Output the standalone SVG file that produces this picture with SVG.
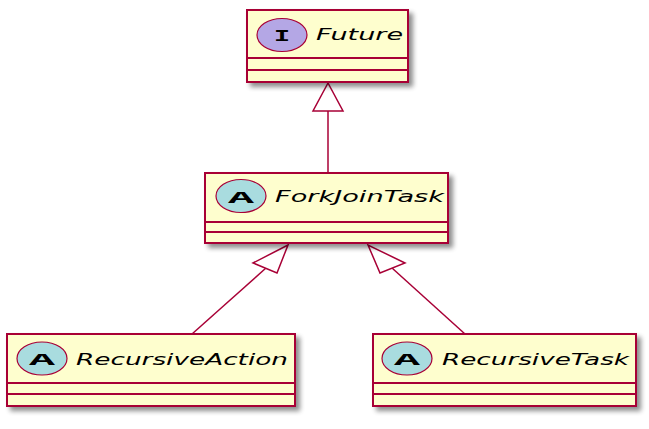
<svg xmlns="http://www.w3.org/2000/svg" width="649" height="429" viewBox="0 0 649 429">
<style>
.box{fill:#FEFECE;stroke:#A80036;stroke-width:2}
.div{stroke:#A80036;stroke-width:2}
.name{font-family:"DejaVu Sans","Liberation Sans",sans-serif;font-style:italic;font-size:15px;fill:#000}
.circI{fill:#B4A7E5;stroke:#A80036;stroke-width:1.2}
.circA{fill:#A9DCDF;stroke:#A80036;stroke-width:1.2}
.let{font-family:"Liberation Mono","DejaVu Sans Mono",monospace;font-weight:bold;font-size:17px;fill:#000;text-anchor:middle}
.edge{stroke:#A80036;stroke-width:1.5;fill:none}
.head{fill:#FFFFFF;stroke:#A80036;stroke-width:1.5}
</style>
<defs>
<filter id="sh" x="-10%" y="-20%" width="130%" height="150%">
<feGaussianBlur in="SourceAlpha" stdDeviation="2.5"/>
<feOffset dx="4" dy="4" result="b"/>
<feComponentTransfer><feFuncA type="linear" slope="0.45"/></feComponentTransfer>
<feMerge><feMergeNode/><feMergeNode in="SourceGraphic"/></feMerge>
</filter>
</defs>
<rect width="649" height="429" fill="#FFFFFF"/>
<g id="connectors">
<line class="edge" x1="328" y1="111" x2="328" y2="173"/>
<polygon class="head" points="328,83 313,111 343,111"/>
<line class="edge" x1="266" y1="268" x2="192" y2="334"/>
<polygon class="head" points="288,245 253,263 277,273"/>
<line class="edge" x1="392" y1="268" x2="465" y2="334"/>
<polygon class="head" points="368,245 380,273 405,263"/>
</g>
<g id="Future">
<rect class="box" x="247" y="10" width="161" height="72" filter="url(#sh)"/>
<line class="div" x1="247" y1="58" x2="408" y2="58"/>
<line class="div" x1="247" y1="70" x2="408" y2="70"/>
<ellipse class="circI" cx="282" cy="35" rx="25" ry="16.5"/>
<text class="let" x="282" y="41" textLength="16" lengthAdjust="spacingAndGlyphs">I</text>
<text class="name" x="316" y="40" textLength="87" lengthAdjust="spacingAndGlyphs">Future</text>
</g>
<g id="ForkJoinTask">
<rect class="box" x="205" y="173" width="243" height="70" filter="url(#sh)"/>
<line class="div" x1="205" y1="222" x2="448" y2="222"/>
<line class="div" x1="205" y1="232" x2="448" y2="232"/>
<ellipse class="circA" cx="241" cy="196" rx="25" ry="16.5"/>
<text class="let" x="241" y="203" textLength="26" lengthAdjust="spacingAndGlyphs">A</text>
<text class="name" x="275" y="202" textLength="169" lengthAdjust="spacingAndGlyphs">ForkJoinTask</text>
</g>
<g id="RecursiveAction">
<rect class="box" x="7" y="334" width="288" height="72" filter="url(#sh)"/>
<line class="div" x1="7" y1="383" x2="295" y2="383"/>
<line class="div" x1="7" y1="394" x2="295" y2="394"/>
<ellipse class="circA" cx="42" cy="358.5" rx="25" ry="16.5"/>
<text class="let" x="42" y="365" textLength="26" lengthAdjust="spacingAndGlyphs">A</text>
<text class="name" x="76" y="365" textLength="212" lengthAdjust="spacingAndGlyphs">RecursiveAction</text>
</g>
<g id="RecursiveTask">
<rect class="box" x="373" y="334" width="263" height="72" filter="url(#sh)"/>
<line class="div" x1="373" y1="383" x2="636" y2="383"/>
<line class="div" x1="373" y1="394" x2="636" y2="394"/>
<ellipse class="circA" cx="407" cy="358.5" rx="25" ry="16.5"/>
<text class="let" x="407" y="365" textLength="26" lengthAdjust="spacingAndGlyphs">A</text>
<text class="name" x="442" y="365" textLength="187" lengthAdjust="spacingAndGlyphs">RecursiveTask</text>
</g>
</svg>
